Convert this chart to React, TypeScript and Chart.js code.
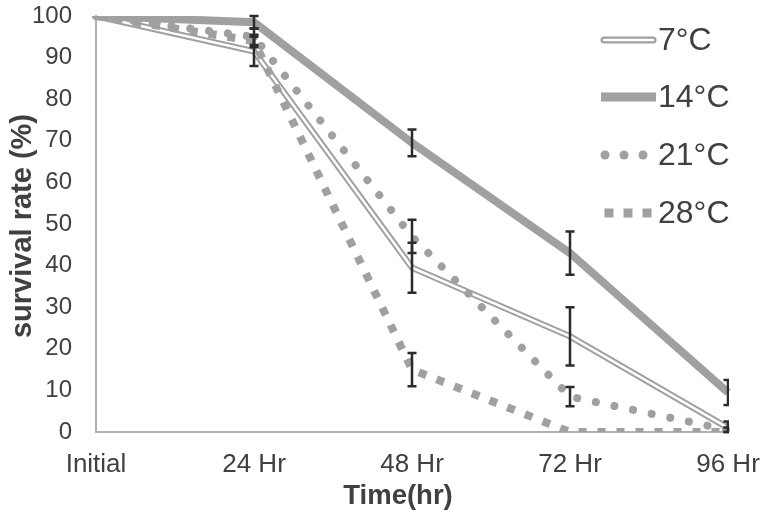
import React, { useEffect, useRef } from "react";
import { Chart, registerables } from "chart.js";

Chart.register(...registerables);

const categories = ["Initial", "24 Hr", "48 Hr", "72 Hr", "96 Hr"];
const seriesNames = ["7°C", "14°C", "21°C", "28°C"];
const s7 = [100, 91.5, 39.5, 23, 1];
const s14 = [100, 98.5, 69.5, 43, 9.5];
const s21 = [100, 95, 47, 8.5, 0.5];
const s28 = [100, 94, 15, 0, 0];
const e7 = [0, 3.5, 6, 7, 1.5];
const e14 = [0, 1.5, 3.2, 5.2, 3];
const e21 = [0, 2, 4, 2.3, 0.5];
const e28 = [0, 1.5, 4, 0, 0];
const yTicks = [0, 10, 20, 30, 40, 50, 60, 70, 80, 90, 100];

const GRAY = "#a0a0a0";
const TEXT = "#404040";
const FONT = "'Liberation Sans', Arial, sans-serif";

export default function App() {
  const ref = useRef<HTMLCanvasElement | null>(null);
  useEffect(() => {
    document.body.style.margin = "0";
    const canvas = ref.current;
    if (!canvas) return;

    const series = [
      { vals: s7, err: e7 },
      { vals: s14, err: e14 },
      { vals: s21, err: e21 },
      { vals: s28, err: e28 },
    ];

    const errorBars = {
      id: "errorBars",
      afterDatasetsDraw(chart: any) {
        const ctx = chart.ctx;
        const x = chart.scales.x;
        const y = chart.scales.y;
        const a = chart.chartArea;
        ctx.save();
        ctx.beginPath();
        ctx.rect(a.left - 10, a.top - 10, a.right - a.left + 11, a.bottom - a.top + 20);
        ctx.clip();
        ctx.strokeStyle = "#2b2b2b";
        ctx.lineWidth = 2.5;
        series.forEach((s) => {
          s.vals.forEach((v, i) => {
            const e = s.err[i];
            if (!e) return;
            const px = x.getPixelForValue(i);
            const top = y.getPixelForValue(v + e);
            const bot = y.getPixelForValue(Math.max(0, v - e));
            ctx.beginPath();
            ctx.moveTo(px, top);
            ctx.lineTo(px, bot);
            ctx.moveTo(px - 4.5, top);
            ctx.lineTo(px + 4.5, top);
            ctx.moveTo(px - 4.5, bot);
            ctx.lineTo(px + 4.5, bot);
            ctx.stroke();
          });
        });
        ctx.restore();
      },
    };

    const customText = {
      id: "customText",
      afterDraw(chart: any) {
        const ctx = chart.ctx;
        ctx.save();
        // axis titles
        ctx.fillStyle = TEXT;
        ctx.textAlign = "center";
        ctx.textBaseline = "middle";
        ctx.font = `bold 27.5px ${FONT}`;
        ctx.fillText("Time(hr)", 398, 496);
        ctx.save();
        ctx.translate(23, 226);
        ctx.rotate(-Math.PI / 2);
        ctx.font = `bold 29px ${FONT}`;
        ctx.fillText("survival rate (%)", 0, 0);
        ctx.restore();

        // legend
        const ys = [40, 97, 155, 213];
        const x0 = 601;
        const x1 = 656;
        // 7°C double line
        ctx.lineCap = "round";
        ctx.strokeStyle = GRAY;
        ctx.lineWidth = 7;
        ctx.beginPath();
        ctx.moveTo(x0 + 3, ys[0]);
        ctx.lineTo(x1 - 3, ys[0]);
        ctx.stroke();
        ctx.strokeStyle = "#ffffff";
        ctx.lineWidth = 2.5;
        ctx.beginPath();
        ctx.moveTo(x0 + 3, ys[0]);
        ctx.lineTo(x1 - 3, ys[0]);
        ctx.stroke();
        // 14°C
        ctx.lineCap = "butt";
        ctx.strokeStyle = GRAY;
        ctx.lineWidth = 9;
        ctx.beginPath();
        ctx.moveTo(x0, ys[1]);
        ctx.lineTo(x1, ys[1]);
        ctx.stroke();
        // 21°C dots
        ctx.fillStyle = GRAY;
        [605, 624, 643].forEach((cx) => {
          ctx.beginPath();
          ctx.arc(cx, ys[2], 4.5, 0, Math.PI * 2);
          ctx.fill();
        });
        // 28°C squares
        [609, 628, 647].forEach((cx) => {
          ctx.fillRect(cx - 4.5, ys[3] - 4.5, 9, 9);
        });
        ctx.fillStyle = TEXT;
        ctx.font = `32px ${FONT}`;
        ctx.textAlign = "left";
        ctx.textBaseline = "middle";
        seriesNames.forEach((n, i) => ctx.fillText(n, 658, ys[i] + 1));
        ctx.restore();
      },
    };

    const chart = new Chart(canvas, {
      type: "line",
      data: {
        labels: categories,
        datasets: [
          {
            label: seriesNames[0],
            data: s7,
            borderColor: GRAY,
            borderWidth: 6.5,
            pointRadius: 0,
            tension: 0,
            order: 5,
          },
          {
            label: seriesNames[0] + " inner",
            data: s7,
            borderColor: "#ffffff",
            borderWidth: 2.5,
            pointRadius: 0,
            tension: 0,
            order: 4,
          },
          {
            label: seriesNames[1],
            data: s14,
            borderColor: GRAY,
            borderWidth: 8,
            pointRadius: 0,
            tension: 0,
            order: 3,
          },
          {
            label: seriesNames[2],
            data: s21,
            borderColor: GRAY,
            borderWidth: 8,
            borderDash: [0.01, 19],
            borderCapStyle: "round",
            pointRadius: 0,
            tension: 0,
            order: 2,
          },
          {
            label: seriesNames[3],
            data: s28,
            borderColor: GRAY,
            borderWidth: 8,
            borderDash: [8, 11],
            borderCapStyle: "butt",
            pointRadius: 0,
            tension: 0,
            order: 1,
          },
        ],
      },
      options: {
        animation: false,
        responsive: false,
        devicePixelRatio: 1,
        layout: { padding: { left: 0, right: 36, top: 16, bottom: 0 } },
        plugins: {
          legend: { display: false },
          tooltip: { enabled: false },
        },
        scales: {
          x: {
            offset: false,
            grid: { display: false, drawTicks: false },
            border: { display: true, color: "#b0b0b0", width: 2 },
            ticks: {
              color: TEXT,
              font: { family: FONT, size: 26 },
              padding: 17,
              maxRotation: 0,
              autoSkip: false,
            },
            afterFit(scale: any) {
              scale.height = 87;
              scale.paddingLeft = 0;
              scale.paddingRight = 0;
            },
          },
          y: {
            min: 0,
            max: 100,
            grid: { display: false, drawTicks: false },
            border: { display: true, color: "#b0b0b0", width: 2 },
            afterBuildTicks(scale: any) {
              scale.ticks = yTicks.map((v) => ({ value: v }));
            },
            ticks: {
              color: TEXT,
              font: { family: FONT, size: 24 },
              padding: 24,
            },
            afterFit(scale: any) {
              scale.width = 96;
              scale.paddingTop = 0;
              scale.paddingBottom = 0;
            },
          },
        },
      },
      plugins: [errorBars, customText],
    });
    return () => chart.destroy();
  }, []);

  return (
    <div style={{ width: 764, height: 519, background: "#ffffff" }}>
      <canvas ref={ref} width={764} height={519} style={{ display: "block" }} />
    </div>
  );
}
